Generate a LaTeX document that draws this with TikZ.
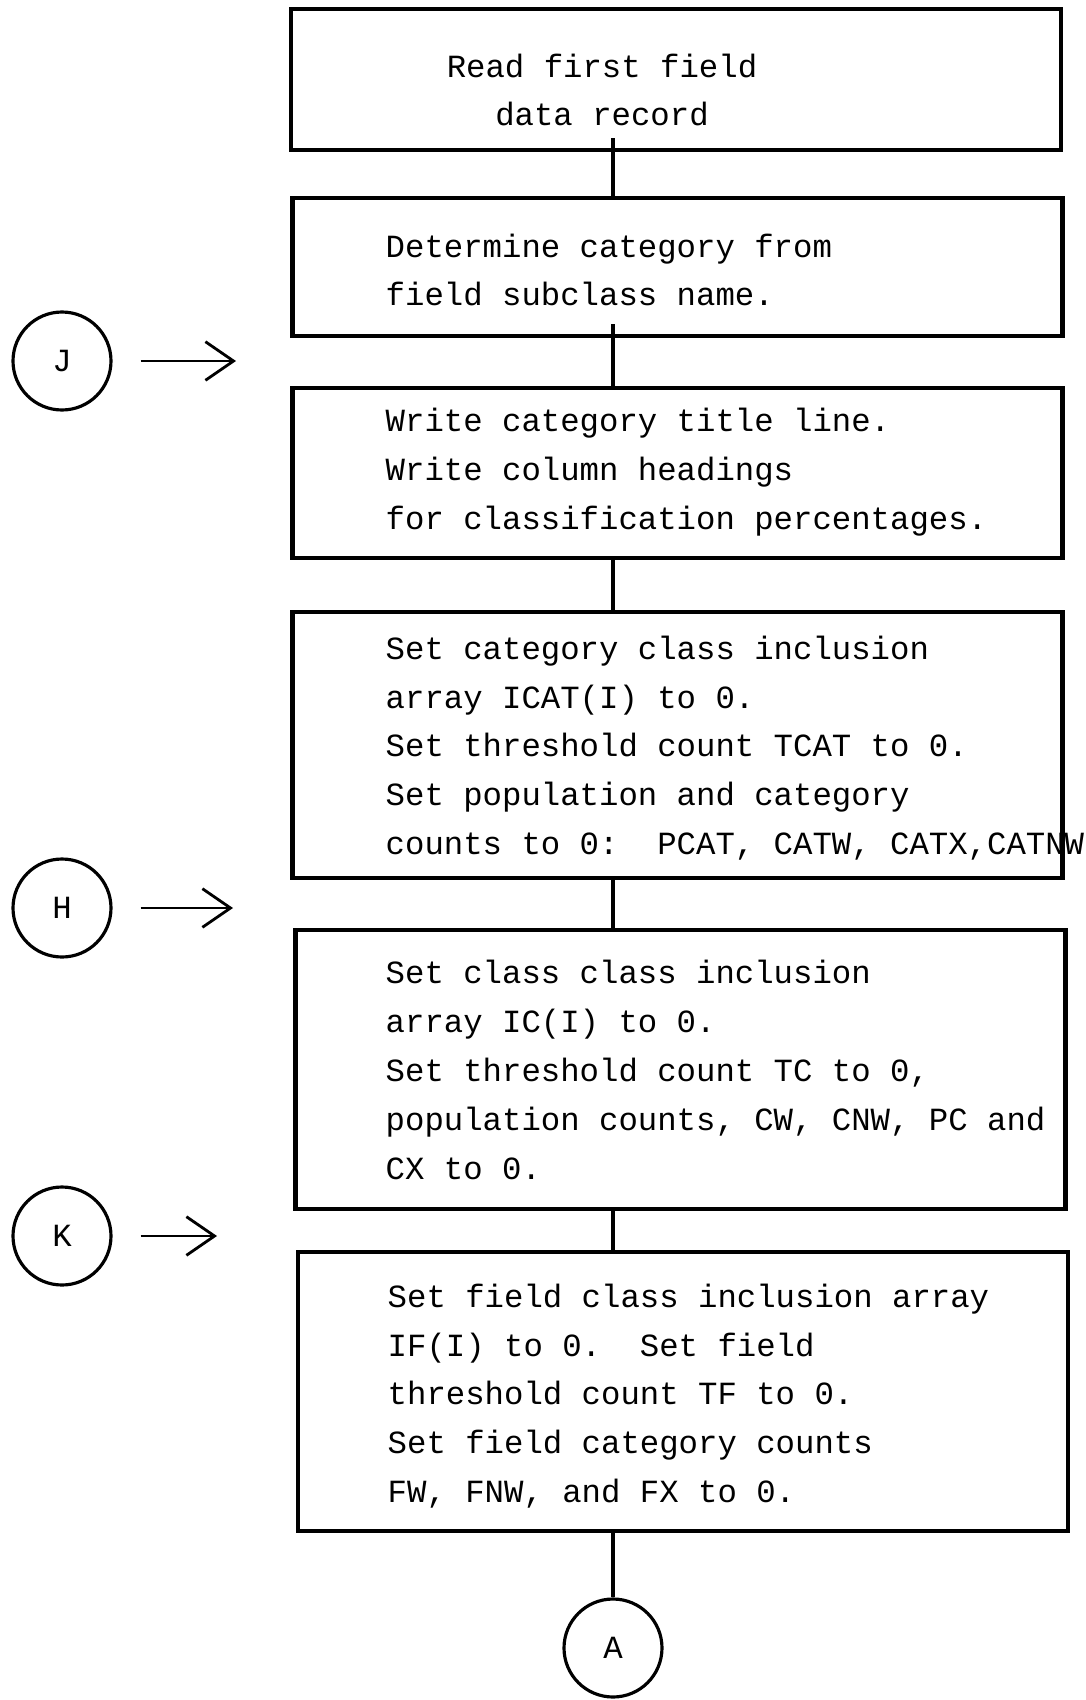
\documentclass[tikz,border=0pt]{standalone}
\usepackage{fontspec}
\setmonofont{Liberation Mono}
\usetikzlibrary{arrows.meta}

\begin{document}
\begin{tikzpicture}[
    stepbox/.style={draw, line width=1.2pt, minimum width=7.7cm, inner sep=0pt},
    txt/.style={font=\ttfamily\fontsize{9.2}{13.9}\selectfont, align=left, anchor=west, inner sep=0pt},
    conn/.style={draw, circle, line width=0.9pt, minimum size=0.98cm, inner sep=0pt, font=\ttfamily\fontsize{9.2}{13.9}\selectfont},
    flow/.style={line width=1.2pt},
    entry/.style={line width=0.8pt, -{Straight Barb[length=8pt,width=11pt]}}
]
    \useasboundingbox (0,0) rectangle (10.85,-17);
    \coordinate (spine) at (6.13,0);

    % boxes
    \node [stepbox, minimum height=1.41cm] (read) at (6.76,-0.795) {};
    \node [stepbox, minimum height=1.38cm] (det) at (6.775,-2.67) {};
    \node [stepbox, minimum height=1.70cm] (title) at (6.775,-4.73) {};
    \node [stepbox, minimum height=2.66cm] (cat) at (6.775,-7.45) {};
    \node [stepbox, minimum height=2.79cm] (cls) at (6.805,-10.695) {};
    \node [stepbox, minimum height=2.79cm] (field) at (6.83,-13.915) {};

    % box texts
    \node [txt, align=center, anchor=center] (readtxt) at (6.02,-0.90) {Read first field\\data record};
    \node [txt] (dettxt) at (3.85,-2.70) {Determine category from\\field subclass name.};
    \node [txt] (titletxt) at (3.85,-4.72) {Write category title line.\\Write column headings\\for classification percentages.};
    \node [txt] (cattxt) at (3.85,-7.48) {Set category class inclusion\\array ICAT(I) to 0.\\Set threshold count TCAT to 0.\\Set population and category\\counts to 0:~ PCAT, CATW, CATX,CATNW};
    \node [txt] (clstxt) at (3.85,-10.70) {Set class class inclusion\\array IC(I) to 0.\\Set threshold count TC to 0,\\population counts, CW, CNW, PC and\\CX to 0.};
    \node [txt] (fieldtxt) at (3.87,-13.96) {Set field class inclusion array\\IF(I) to 0.~ Set field\\threshold count TF to 0.\\Set field category counts\\FW, FNW, and FX to 0.};

    % connectors
    \node [conn] (J) at (0.62,-3.61) {J};
    \node [conn] (H) at (0.62,-9.08) {H};
    \node [conn] (K) at (0.62,-12.36) {K};
    \node [conn] (A) at (6.13,-16.48) {A};
    \coordinate (jtip) at (2.36,-3.61);
    \coordinate (htip) at (2.33,-9.08);
    \coordinate (ktip) at (2.17,-12.36);

    \draw [flow] ([yshift=4pt]read.south -| spine) -- (det.north -| spine);
    \draw [flow] ([yshift=4pt]det.south -| spine) -- (title.north -| spine);
    \draw [flow] (title.south -| spine) -- (cat.north -| spine);
    \draw [flow] (cat.south -| spine) -- (cls.north -| spine);
    \draw [flow] (cls.south -| spine) -- (field.north -| spine);
    \draw [flow] (field.south -| spine) -- (A);

    \draw [entry] ([xshift=0.28cm]J.east) -- (jtip);
    \draw [entry] ([xshift=0.28cm]H.east) -- (htip);
    \draw [entry] ([xshift=0.28cm]K.east) -- (ktip);
\end{tikzpicture}
\end{document}
